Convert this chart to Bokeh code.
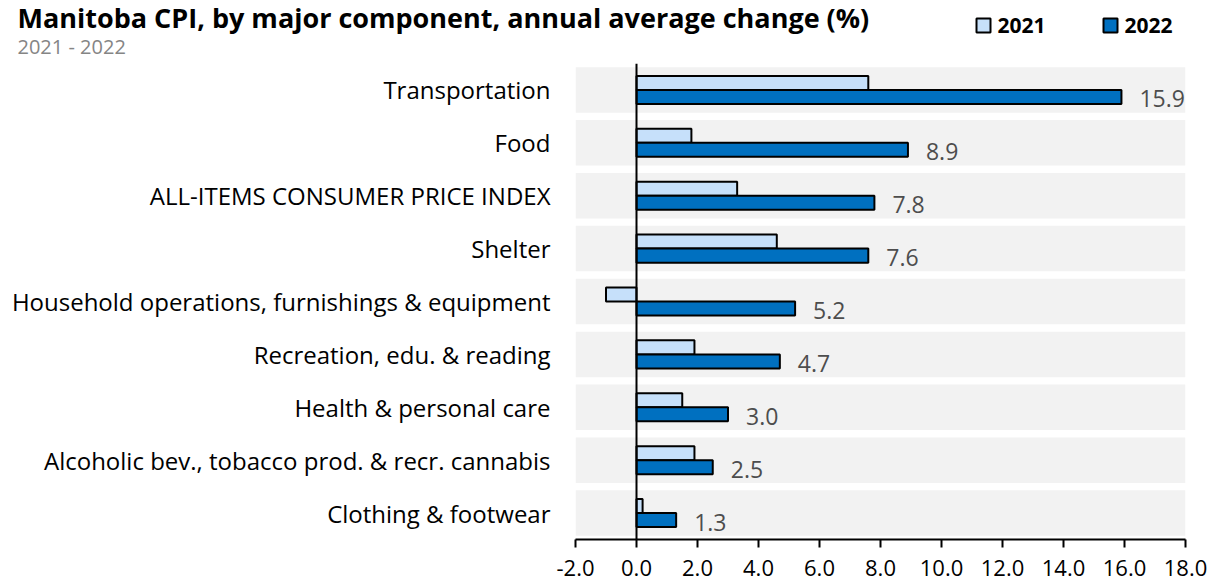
from bokeh.plotting import figure
from bokeh.models import (ColumnDataSource, FactorRange, Range1d, Span,
                          FixedTicker, NumeralTickFormatter)
from bokeh.transform import dodge
from bokeh.core.properties import value
from bokeh.embed import file_html
from bokeh.resources import INLINE

title_text = "Manitoba CPI, by major component, annual average change (%)"
subtitle_text = "2021 - 2022"
series_names = ["2021", "2022"]
series_colors = ["#c6e0fa", "#0070c0"]

categories = [
    "Transportation",
    "Food",
    "ALL-ITEMS CONSUMER PRICE INDEX",
    "Shelter",
    "Household operations, furnishings & equipment",
    "Recreation, edu. & reading",
    "Health & personal care",
    "Alcoholic bev., tobacco prod. & recr. cannabis",
    "Clothing & footwear",
]
values_2021 = [7.6, 1.8, 3.3, 4.6, -1.0, 1.9, 1.5, 1.9, 0.2]
values_2022 = [15.9, 8.9, 7.8, 7.6, 5.2, 4.7, 3.0, 2.5, 1.3]
x_ticks = [-2, 0, 2, 4, 6, 8, 10, 12, 14, 16, 18]

FONT = "Open Sans"
W = 1212
HEAD_H = 63
MAIN_H = 586 - HEAD_H

# ---------------- header: title, subtitle, legend (pixel-based ranges) ----------------
head = figure(width=W, height=HEAD_H, x_range=Range1d(0, W), y_range=Range1d(HEAD_H, 0),
              x_axis_type=None, y_axis_type=None, output_backend="svg",
              toolbar_location=None, min_border=0)
head.outline_line_color = None
head.grid.visible = False

head.text(x=[17], y=[17], text=[title_text], text_font=value(FONT), text_font_size="27px",
          text_font_style="bold", text_color="black", text_baseline="middle")
head.text(x=[17], y=[46], text=[subtitle_text], text_font=value(FONT), text_font_size="20px",
          text_color="#858585", text_baseline="middle")

leg_src = ColumnDataSource(dict(
    sx=[983, 1110], tx=[997, 1124], y=[25, 25],
    name=series_names, color=series_colors,
))
head.rect(x="sx", y="y", width=14, height=14, source=leg_src, fill_color="color",
          line_color="black", line_width=2)
head.text(x="tx", y="y", text="name", source=leg_src, text_font=value(FONT),
          text_font_size="21px", text_color="black", text_baseline="middle",
          text_font_style="bold")

# ---------------- main chart ----------------
src = ColumnDataSource(dict(
    cat=categories,
    v2021=values_2021,
    v2022=values_2022,
    lab=[f"{v:.1f}" for v in values_2022],
    lo=[x_ticks[0]] * len(categories),
    hi=[x_ticks[-1]] * len(categories),
))

p = figure(
    width=W, height=MAIN_H,
    y_range=FactorRange(factors=list(reversed(categories)), range_padding=0),
    x_range=Range1d(x_ticks[0], x_ticks[-1]),
    output_backend="svg", toolbar_location=None,
    min_border_left=575, min_border_right=27, min_border_top=0, min_border_bottom=47,
)
p.outline_line_color = None
p.grid.visible = False

p.hbar(y="cat", left="lo", right="hi", height=0.86, source=src,
       fill_color="#f2f2f2", line_color=None)

p.hbar(y=dodge("cat", 0.1325, range=p.y_range), left=0, right="v2021", height=0.265,
       source=src, fill_color=series_colors[0], line_color="black", line_width=2)
p.hbar(y=dodge("cat", -0.1325, range=p.y_range), left=0, right="v2022", height=0.265,
       source=src, fill_color=series_colors[1], line_color="black", line_width=2)

p.text(x="v2022", y=dodge("cat", -0.1325, range=p.y_range), text="lab", source=src,
       x_offset=18, y_offset=2, text_baseline="middle", text_align="left",
       text_font=value(FONT), text_font_size="23px", text_color="#4d4d4d")

p.add_layout(Span(location=0, dimension="height", line_color="black", line_width=2))

xa = p.xaxis[0]
xa.ticker = FixedTicker(ticks=x_ticks)
xa.formatter = NumeralTickFormatter(format="0.0")
xa.axis_line_width = 2
xa.axis_line_color = "black"
xa.major_tick_line_width = 2
xa.major_tick_line_color = "black"
xa.major_tick_in = 0
xa.major_tick_out = 8
xa.minor_tick_line_color = None
xa.major_label_standoff = 12
xa.major_label_text_font = FONT
xa.major_label_text_font_size = "22px"
xa.major_label_text_color = "black"

ya = p.yaxis[0]
ya.axis_line_color = None
ya.major_tick_line_color = None
ya.minor_tick_line_color = None
ya.major_label_standoff = 19
ya.major_label_text_font = FONT
ya.major_label_text_font_size = "24px"
ya.major_label_text_color = "black"

open("out.html", "w").write(file_html([head, p], INLINE))
